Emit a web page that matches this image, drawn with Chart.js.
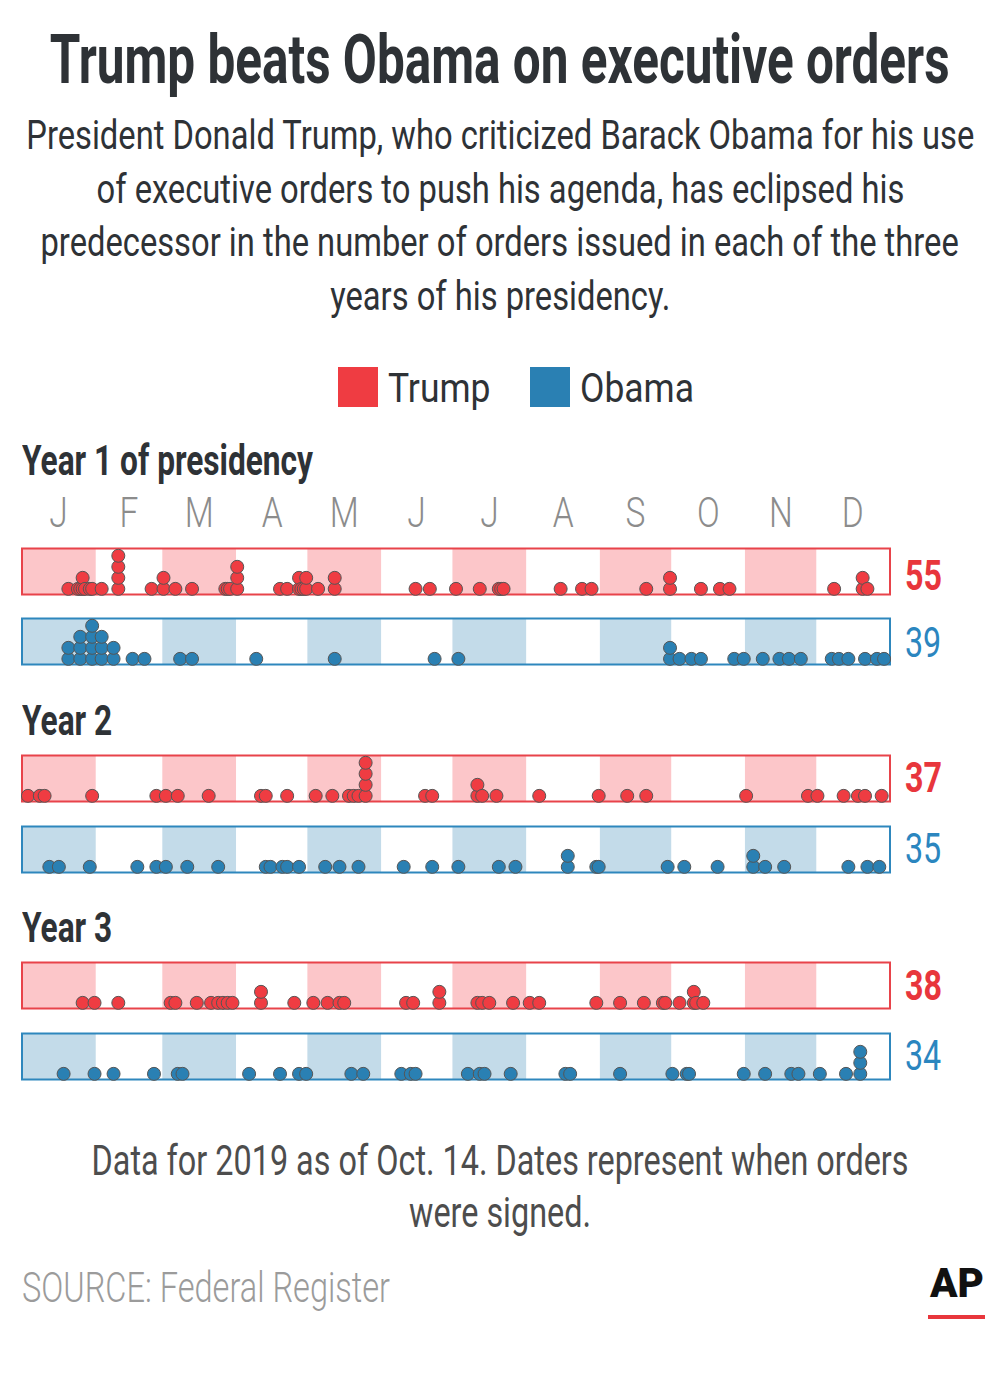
<!DOCTYPE html>
<html><head><meta charset="utf-8">
<script src="https://cdn.jsdelivr.net/npm/chart.js@4.4.1/dist/chart.umd.min.js"></script>
<style>
html,body{margin:0;padding:0;background:#fff;}
#page{position:relative;width:1000px;height:1377px;overflow:hidden;font-family:Roboto,"Open Sans","Noto Sans",sans-serif;color:#2e3236;}
.t{position:absolute;white-space:nowrap;line-height:1;}
.t span{display:inline-block;white-space:nowrap;flex:none;}
.c{left:0;width:1000px;display:flex;justify-content:center;}
.c span{transform-origin:50% 50%;}
.l span{transform-origin:0 50%;}
.strip{position:absolute;}
.sq{position:absolute;width:40px;height:40px;}
</style></head><body><div id="page"></div>
<script>
// ---- data ----
const monthLabels = ['J','F','M','A','M','J','J','A','S','O','N','D'];
const monthDays = [31,28,31,30,31,30,31,31,30,31,30,31];
const yearTitles = ['Year 1 of presidency','Year 2','Year 3'];
const seriesNames = ['Trump','Obama'];
// day of year on which each order was signed (same day = stacked dot)
const trumpY1 = [20,24,25,26,26,27,29,30,34,41,41,41,41,55,60,60,65,72,86,87,88,91,91,91,109,112,117,117,118,119,120,120,125,132,132,166,172,183,193,201,202,203,227,236,240,263,273,273,286,294,298,342,354,354,356];
const obamaY1 = [20,20,25,25,25,30,30,30,30,34,34,34,39,39,47,52,67,72,99,132,174,184,273,273,277,282,286,300,304,312,319,323,328,341,344,348,355,360,363];
const trumpY2 = [3,8,10,30,57,61,66,79,101,103,112,124,131,138,140,142,145,145,145,145,170,173,192,192,194,200,218,243,255,263,305,331,335,346,352,355,362];
const obamaY2 = [12,16,29,49,57,61,70,83,103,105,110,112,117,128,134,142,161,173,184,201,208,230,230,242,243,272,279,293,308,308,313,321,348,356,361];
const trumpY3 = [26,31,41,63,65,74,80,83,85,87,89,101,101,115,123,129,134,136,162,165,176,176,192,194,197,207,214,218,242,252,262,270,271,277,283,283,284,287];
const obamaY3 = [18,31,39,56,66,68,96,109,117,120,139,144,160,164,166,188,193,195,206,229,231,252,274,280,281,304,313,324,327,336,347,353,353,353];
const trumpTotals = [55,37,38];
const obamaTotals = [39,35,34];

// ---- styles ----
const RED = {dot:'#ef3c42', shade:'#fcc6c9', border:'#e8434a', text:'#e8363c'};
const BLUE = {dot:'#2a80b3', shade:'#c3dbe9', border:'#2e87bd', text:'#2b86bf'};
const page = document.getElementById('page');

function addText(txt, opts){
  const d = document.createElement('div');
  d.className = 't ' + (opts.center ? 'c' : 'l');
  if(!opts.center && opts.left !== undefined) d.style.left = opts.left + 'px';
  if(opts.boxLeft !== undefined){ d.className='t c'; d.style.left = opts.boxLeft+'px'; d.style.width = opts.boxWidth+'px'; }
  d.style.top = opts.top + 'px';
  d.style.fontSize = opts.size + 'px';
  d.style.fontWeight = opts.weight || 400;
  d.style.color = opts.color || '#2e3236';
  const s = document.createElement('span');
  s.textContent = txt;
  d.appendChild(s);
  page.appendChild(d);
  return s;
}
function fitK(span, w){ return w / span.getBoundingClientRect().width; }
function scaleSpan(span, k){ span.style.transform = 'scaleX(' + k.toFixed(4) + ')'; }

// Title
const title = addText('Trump beats Obama on executive orders', {center:true, top:26, size:68, weight:700});
scaleSpan(title, fitK(title, 900));

// Subtitle
const subLines = ['President Donald Trump, who criticized Barack Obama for his use',
  'of executive orders to push his agenda, has eclipsed his',
  'predecessor in the number of orders issued in each of the three',
  'years of his presidency.'];
const subSpans = subLines.map((l,i)=>addText(l,{center:true, top:115+i*53.7, size:41, weight:400}));
const kSub = fitK(subSpans[0], 948);
subSpans.forEach(s=>scaleSpan(s,kSub));

// Legend
const sq1 = document.createElement('div'); sq1.className='sq'; sq1.style.left='338px'; sq1.style.top='367px'; sq1.style.background=RED.dot; page.appendChild(sq1);
const sq2 = document.createElement('div'); sq2.className='sq'; sq2.style.left='530px'; sq2.style.top='367px'; sq2.style.background=BLUE.dot; page.appendChild(sq2);
const lg1 = addText(seriesNames[0], {left:388, top:368, size:41});
const lg2 = addText(seriesNames[1], {left:580, top:368, size:41});
const kLg = fitK(lg2, 114);
scaleSpan(lg1,kLg); scaleSpan(lg2,kLg);

// Year headings
const yearTops = [439, 699, 906];
const ySpans = yearTitles.map((t,i)=>addText(t,{left:22, top:yearTops[i], size:43, weight:700}));
const kY = fitK(ySpans[0], 291);
ySpans.forEach(s=>scaleSpan(s,kY));

// Strips
const stripTops = [545, 615, 752, 823, 959, 1030];
const stripData = [trumpY1, obamaY1, trumpY2, obamaY2, trumpY3, obamaY3];
const stripStyle = [RED, BLUE, RED, BLUE, RED, BLUE];

const bandPlugin = {
  id:'bands',
  beforeDatasetsDraw(ch){
    const ctx = ch.ctx, a = ch.chartArea, xs = ch.scales.x;
    const st = ch.options.plugins.bands;
    ctx.save();
    let cum = 0;
    monthDays.forEach((len,i)=>{
      if(i%2===0){
        const x0 = xs.getPixelForValue(cum+0.5), x1 = xs.getPixelForValue(cum+len+0.5);
        ctx.fillStyle = st.shade;
        ctx.fillRect(x0, a.top, x1-x0, a.bottom-a.top);
      }
      cum += len;
    });
    ctx.strokeStyle = st.border; ctx.lineWidth = 2;
    ctx.strokeRect(a.left, a.top, a.right-a.left, a.bottom-a.top);
    ctx.restore();
  }
};

const charts = [];
stripTops.forEach((top, idx)=>{
  const st = stripStyle[idx];
  const wrap = document.createElement('div'); wrap.className='strip';
  wrap.style.left = '10px'; wrap.style.top = (top-4)+'px';
  const cv = document.createElement('canvas'); cv.width = 894; cv.height = 61;
  cv.style.width='894px'; cv.style.height='61px';
  wrap.appendChild(cv); page.appendChild(wrap);
  const seen = {};
  const pts = stripData[idx].map(d=>{ const lv = seen[d]||0; seen[d]=lv+1; return {x:d, y:lv}; });
  charts.push(new Chart(cv, {
    type:'scatter',
    data:{datasets:[{data:pts, backgroundColor:st.dot, borderColor:'#555555', borderWidth:1,
      pointRadius:6.5, pointHoverRadius:6.5, clip:false}]},
    options:{responsive:false, animation:false, devicePixelRatio:1, events:[],
      layout:{padding:{left:12, right:14, top:4, bottom:4}},
      plugins:{legend:{display:false}, tooltip:{enabled:false}, bands:{shade:st.shade, border:st.border}},
      scales:{x:{type:'linear', min:0.5, max:365.5, display:false},
              y:{type:'linear', min:-0.51, max:3.66, display:false}}},
    plugins:[bandPlugin]
  }));
});

// Month letters, positioned through the first strip's x scale
const xs0 = charts[0].scales.x;
let cum = 0;
const mSpans = [];
monthDays.forEach((len,i)=>{
  const px = 10 + xs0.getPixelForValue(cum + len/2 + 0.5);
  mSpans.push(addText(monthLabels[i], {boxLeft:px-30, boxWidth:60, top:491.5, size:42, weight:300, color:'#8c8c8c'}));
  cum += len;
});
mSpans.forEach(s=>{ s.style.transformOrigin='50% 50%'; scaleSpan(s, kSub); });

// Totals
const numTops = [554.5, 621.5, 756.5, 827.5, 964.5, 1034.5];
const totals = [trumpTotals[0], obamaTotals[0], trumpTotals[1], obamaTotals[1], trumpTotals[2], obamaTotals[2]];
const nSpans = totals.map((v,i)=>addText(String(v), {left:905, top:numTops[i], size:42, weight:(i%2===0?700:400), color:(i%2===0?RED.text:BLUE.text)}));
const kN = fitK(nSpans[0], 37);
nSpans.forEach(s=>scaleSpan(s,kN));

// Footnote
const f1 = addText('Data for 2019 as of Oct. 14. Dates represent when orders', {center:true, top:1139.5, size:42, color:'#4d4d4d'});
const f2 = addText('were signed.', {center:true, top:1191.5, size:42, color:'#4d4d4d'});
const kF = fitK(f1, 817); scaleSpan(f1,kF); scaleSpan(f2,kF);

// Source
const src = addText('SOURCE: Federal Register', {left:22, top:1266.5, size:42, weight:300, color:'#9b9b9b'});
scaleSpan(src, fitK(src, 368));

// AP logo
const ap = addText('AP', {left:930, top:1264, size:40, weight:900, color:'#111'});
scaleSpan(ap, fitK(ap, 54));
const bar = document.createElement('div');
bar.style.cssText = 'position:absolute;left:928px;top:1315px;width:57px;height:4px;background:#e8363c;';
page.appendChild(bar);
</script>
</body></html>
